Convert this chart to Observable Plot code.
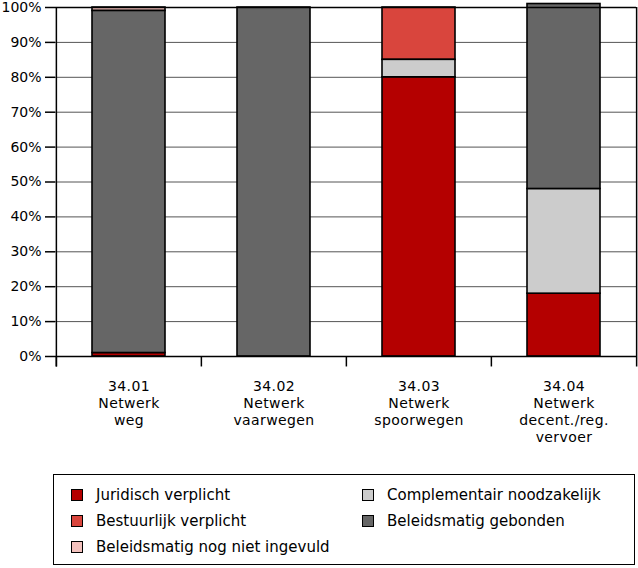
<!DOCTYPE html>
<html>
<head>
<meta charset="utf-8">
<script src="https://cdn.jsdelivr.net/npm/d3@7"></script>
<script src="https://cdn.jsdelivr.net/npm/@observablehq/plot@0.6"></script>
<style>
  html, body { margin: 0; padding: 0; background: #fff; }
  body { width: 638px; height: 568px; position: relative; font-family: "DejaVu Sans", sans-serif; }
  #chart { position: absolute; left: 0; top: 0; }
  #legend {
    position: absolute; left: 53px; top: 474px; width: 580px; height: 89px;
    border: 1.5px solid #000; box-sizing: content-box;
  }
  .item { position: absolute; display: flex; align-items: center; font-size: 15px; color: #000; white-space: nowrap; }
  .sw { width: 10px; height: 10px; border: 1.5px solid #000; margin-right: 13px; }
  #chart svg g[aria-label="x-axis tick label"] text { letter-spacing: 0.4px; }
</style>
</head>
<body>
<div id="chart"></div>
<div id="legend"></div>
<script>
const categories = ["34.01", "34.02", "34.03", "34.04"];
const categoryNames = ["Netwerk\nweg", "Netwerk\nvaarwegen", "Netwerk\nspoorwegen", "Netwerk\ndecent./reg.\nvervoer"];
const seriesNames = ["Juridisch verplicht", "Bestuurlijk verplicht", "Beleidsmatig nog niet ingevuld", "Complementair noodzakelijk", "Beleidsmatig gebonden"];
const seriesColors = ["#b40000", "#d9453d", "#f3c1bd", "#cccccc", "#666666"];
const stackOrder = ["Juridisch verplicht", "Complementair noodzakelijk", "Bestuurlijk verplicht", "Beleidsmatig gebonden", "Beleidsmatig nog niet ingevuld"];
const juridisch = [1, 0, 80, 18];
const bestuurlijk = [0, 0, 15, 0];
const nogNiet = [1, 0, 0, 0];
const complementair = [0, 0, 5, 30];
const gebonden = [98, 100, 0, 53];
const yTicks = [0, 10, 20, 30, 40, 50, 60, 70, 80, 90, 100];

const seriesValues = [juridisch, bestuurlijk, nogNiet, complementair, gebonden];
const rows = [];
categories.forEach((c, i) => {
  seriesNames.forEach((s, j) => {
    if (seriesValues[j][i] > 0) rows.push({category: c, series: s, value: seriesValues[j][i]});
  });
});

const left = 55, right = 2;
const step = (638 - left - right) / categories.length;
const labelMap = new Map(categories.map((c, i) => [c, c + "\n" + categoryNames[i]]));

const chart = Plot.plot({
  width: 638,
  height: 470,
  marginLeft: left,
  marginRight: right,
  marginTop: 7,
  marginBottom: 114,
  style: {fontFamily: "DejaVu Sans, sans-serif", fontSize: "14px", overflow: "visible", color: "#000"},
  x: {domain: categories, paddingInner: 0.5, paddingOuter: 0.25, axis: null},
  y: {domain: [0, 100], axis: null},
  color: {domain: seriesNames, range: seriesColors},
  marks: [
    Plot.gridY(yTicks.slice(1, -1), {stroke: "#555", strokeOpacity: 1, strokeWidth: 1}),
    Plot.barY(rows, Plot.stackY({
      x: "category", y: "value", fill: "series",
      order: stackOrder,
      stroke: "#000", strokeWidth: 1.6
    })),
    Plot.ruleY([0, 100], {stroke: "#000", strokeWidth: 1.5}),
    Plot.ruleX(categories, {x: d => d, y1: -3, y2: 0, dx: -step / 2, stroke: "#000", strokeWidth: 1.5}),
    Plot.ruleX([categories[0]], {x: d => d, y1: -3, y2: 100, dx: -step / 2, stroke: "#000", strokeWidth: 1.5}),
    Plot.ruleX([categories[categories.length - 1]], {x: d => d, y1: -3, y2: 100, dx: step / 2, stroke: "#000", strokeWidth: 1.5}),
    Plot.axisY({ticks: yTicks, tickFormat: d => d + "%", tickSize: 10, tickPadding: 4, fontSize: 14, stroke: "#000", strokeWidth: 1.5, label: null}),
    Plot.axisX({tickFormat: d => labelMap.get(d), tickSize: 0, tickPadding: 23, lineHeight: 1.2, fontSize: 14, label: null, lineAnchor: "top"})
  ]
});
document.getElementById("chart").appendChild(chart);

// legend (HTML, below the SVG)
const legend = document.getElementById("legend");
const legendPos = [
  [17, 20], [17, 46], [17, 72], [308, 20], [308, 46]
];
seriesNames.forEach((s, i) => {
  const d = document.createElement("div");
  d.className = "item";
  d.style.left = legendPos[i][0] + "px";
  d.style.top = (legendPos[i][1] - 9) + "px";
  d.style.height = "18px";
  const sw = document.createElement("span");
  sw.className = "sw";
  sw.style.background = seriesColors[i];
  const t = document.createElement("span");
  t.textContent = s;
  d.appendChild(sw); d.appendChild(t);
  legend.appendChild(d);
});
</script>
</body>
</html>
